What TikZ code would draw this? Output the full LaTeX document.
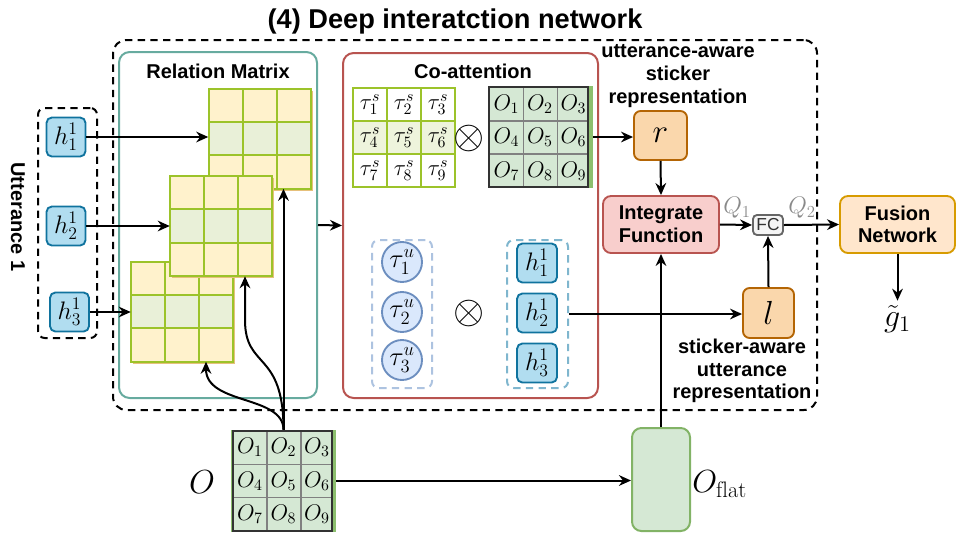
\RequirePackage{fix-cm}
\documentclass[tikz,border=0pt]{standalone}
\usepackage{fontspec}
\newfontfamily\labfont{Liberation Sans}
\usetikzlibrary{arrows.meta,calc}
\definecolor{hfill}{HTML}{B1DDF0}
\definecolor{hdraw}{HTML}{10739E}
\definecolor{cRel}{HTML}{67AB9F}
\definecolor{cCo}{HTML}{B85450}
\definecolor{cYel}{HTML}{FFF2CC}
\definecolor{cGrn}{HTML}{E9F0D8}
\definecolor{cGrid}{HTML}{9CC32A}
\definecolor{cShadow}{HTML}{E6C07B}
\definecolor{cTauG}{HTML}{EEF4DC}
\definecolor{cOfill}{HTML}{D5E8D4}
\definecolor{cOedge}{HTML}{8CBF6E}
\definecolor{cOframe}{HTML}{333333}
\definecolor{cOline}{HTML}{808080}
\definecolor{cTuF}{HTML}{DAE8FC}
\definecolor{cTuD}{HTML}{6C8EBF}
\definecolor{cTuBox}{HTML}{ADC3E0}
\definecolor{cHBox}{HTML}{7FB6CE}
\definecolor{cOrF}{HTML}{FAD7AC}
\definecolor{cOrD}{HTML}{B46504}
\definecolor{cIFF}{HTML}{F8CECC}
\definecolor{cIFD}{HTML}{B85450}
\definecolor{cFCF}{HTML}{F5F5F5}
\definecolor{cFCD}{HTML}{666666}
\definecolor{cFuF}{HTML}{FFE6CC}
\definecolor{cFuD}{HTML}{D79B00}
\definecolor{cFlD}{HTML}{82B366}
\definecolor{cQ}{HTML}{8A8A8A}

\tikzset{
  px/.style 2 args={minimum width={#1*0.75pt}, minimum height={#2*0.75pt}, inner sep=0pt},
  arr/.style={line width=1.5pt, -{Stealth[length=9pt,width=8pt]}},
  lab/.style={font=\labfont\bfseries\fontsize{15}{17}\selectfont, align=center},
  hnode/.style={draw=hdraw, fill=hfill, line width=1.4pt, rounded corners=4pt, font=\fontsize{19}{19}\selectfont},
  orbox/.style={draw=cOrD, fill=cOrF, line width=1.4pt, rounded corners=5pt, font=\fontsize{25}{25}\selectfont},
  dashbox/.style={dashed, dash pattern=on 5.5pt off 4pt, line width=1.5pt},
  cellm/.style={font=\fontsize{17}{17}\selectfont, inner sep=0pt},
}

\newcommand\relmat[3]{%
  \begin{scope}[shift={(#2,#3)}]
    \fill[cShadow] (-49,-48) rectangle (53,52);
    \fill[cYel] (-51,-50) rectangle (51,50);
    \fill[cGrn] (-51,-16.67) rectangle (51,16.67);
    \draw[cGrid, line width=1.5pt] (-51,-50) rectangle (51,50)
      (-17,-50) -- (-17,50) (17,-50) -- (17,50)
      (-51,-16.67) -- (51,-16.67) (-51,16.67) -- (51,16.67);
  \end{scope}
  \node[px={102}{100}] (#1) at (#2,#3) {};}

\newcommand\omat[3]{%
  \begin{scope}[shift={(#2,#3)}]
    \fill[cOedge] (-52.5,-51) rectangle (52.5,51);
    \fill[cOfill] (-51,-50) rectangle (47.5,50);
    \draw[cOline, line width=1.2pt] (-16.5,-50) -- (-16.5,50) (17.5,-50) -- (17.5,50)
      (-51,-16) -- (48,-16) (-51,17) -- (48,17);
    \draw[cOframe, line width=1.5pt] (-51,-50) rectangle (48,50);
  \end{scope}
  \node[px={105}{101}] (#1) at (#2,#3) {};
  \foreach \k/\c/\r in {1/0/0,2/1/0,3/2/0,4/0/1,5/1/1,6/2/1,7/0/2,8/1/2,9/2/2}
    \node[cellm] (#1c\k) at ({#2-33.5+33.5*\c},{#3-33+33.5*\r}) {$O_{\k}$};}

\begin{document}
\begin{tikzpicture}[x=0.75pt,y=-0.75pt]
\useasboundingbox (0,0) rectangle (957,533);

% title
\node[font=\labfont\bfseries\fontsize{20.4}{24}\selectfont] (title) at (455,21) {(4) Deep interatction network};

% outer dashed region
\node[draw, dashbox, rounded corners=10pt, px={704}{370}] (outer) at (465,225) {};

% utterance box
\node[draw, dashbox, rounded corners=5pt, px={59}{230}] (utt) at (67.5,223) {};
\node[lab, rotate=-90] (uttlab) at (18,217) {Utterance 1};
\node[hnode, px={39}{39}] (h11) at (66,137) {$h^1_1$};
\node[hnode, px={39}{39}] (h21) at (66,226) {$h^1_2$};
\node[hnode, px={39}{39}] (h31) at (69.5,312) {$h^1_3$};

% relation matrix box
\node[draw=cRel, line width=1.5pt, rounded corners=8pt, px={198}{346}] (rel) at (218,225) {};
\node[lab] (reltitle) at (218,71) {Relation Matrix};
\relmat{m1}{259.5}{138.5}
\relmat{m3}{182}{311.5}
\relmat{m2}{221}{226}

% co-attention box
\node[draw=cCo, line width=1.5pt, rounded corners=8pt, px={255}{345}] (co) at (470.5,225.5) {};
\node[lab] (cotitle) at (473,71) {Co-attention};

% tau^s matrix
\begin{scope}[shift={(404,137.5)}]
  \fill[white] (-51,-49.5) rectangle (51,49.5);
  \fill[cTauG] (-51,-16.5) rectangle (51,16.5);
  \draw[cGrid, line width=1.4pt] (-51,-49.5) rectangle (51,49.5)
    (-17,-49.5) -- (-17,49.5) (17,-49.5) -- (17,49.5)
    (-51,-16.5) -- (51,-16.5) (-51,16.5) -- (51,16.5);
\end{scope}
\node[px={102}{99}] (taus) at (404,137.5) {};
\foreach \k/\c/\r in {1/0/0,2/1/0,3/2/0,4/0/1,5/1/1,6/2/1,7/0/2,8/1/2,9/2/2}
  \node[cellm] (ts\k) at ({370+34*\c},{104.5+33*\r}) {$\tau^s_{\k}$};

\node[inner sep=0pt, font=\fontsize{30}{30}\selectfont] (ot1) at (469,138) {$\otimes$};
\omat{otop}{540}{137}

% tau^u and h
\node[draw=cTuBox, dashbox, rounded corners=5pt, px={60}{148}] (tubox) at (402,314) {};
\foreach \k/\yy in {1/262,2/312,3/360}
  \node[circle, draw=cTuD, fill=cTuF, line width=1.4pt, minimum size=30pt, inner sep=0pt, font=\fontsize{20}{20}\selectfont] (tu\k) at (402,\yy) {$\tau^u_{\k}$};
\node[inner sep=0pt, font=\fontsize{30}{30}\selectfont] (ot2) at (469,313) {$\otimes$};
\node[draw=cHBox, dashbox, rounded corners=5pt, px={61}{148}] (hbox) at (537.5,314) {};
\foreach \k/\yy in {1/263,2/313,3/363}
  \node[hnode, px={40}{39}] (ha\k) at (537,\yy) {$h^1_{\k}$};

% right part
\node[orbox, px={53}{49}] (r) at (660.5,135.5) {$r$};
\node[lab] (usr) at (678,76) {utterance-aware\\sticker\\representation};
\node[draw=cIFD, fill=cIFF, line width=1.4pt, rounded corners=6pt, px={116}{57}, lab] (if) at (661,224.5) {Integrate\\Function};
\node[draw=cFCD, fill=cFCF, line width=1.4pt, rounded corners=3pt, px={30}{20}, text=cOframe, font=\labfont\fontsize{13}{13}\selectfont] (fc) at (768,225) {FC};
\node[draw=cFuD, fill=cFuF, line width=1.4pt, rounded corners=6pt, px={115}{57}, lab] (fu) at (897.5,224.5) {Fusion\\Network};
\node[orbox, px={51}{50}] (l) at (768.5,313) {$l$};
\node[lab] (sau) at (742,371) {sticker-aware\\utterance\\representation};
\node[text=cQ, font=\fontsize{18}{18}\selectfont] (q1) at (737,208) {$Q_1$};
\node[text=cQ, font=\fontsize{18}{18}\selectfont] (q2) at (802,208) {$Q_2$};
\node[font=\fontsize{24}{24}\selectfont] (g1) at (897.5,319) {$\tilde{g}_1$};

% bottom
\omat{obot}{283.5}{480.5}
\node[font=\fontsize{25}{25}\selectfont] (olab) at (202,482) {$O$};
\node[draw=cFlD, fill=cOfill, line width=1.5pt, rounded corners=7pt, px={58}{103}] (ofl) at (661,479.5) {};
\node[anchor=west, font=\fontsize{24}{24}\selectfont, inner sep=0pt] (ofllab) at (692,484) {$O_{\mathrm{flat}}$};

% connectors
\draw[arr] (h11.east) -- (h11.east -| m1.west);
\draw[arr] (h21.east) -- (h21.east -| m2.west);
\draw[arr] (h31.east) -- (h31.east -| m3.west);
\draw[arr] (rel.east) -- (co.west);
\draw[arr] (otop.east) -- (otop.east -| r.west);
\draw[arr] (r.south) -- (if.north);
\draw[arr] (if.east) -- (fc.west);
\draw[arr] (fc.east) -- (fu.west);
\draw[arr] (l.north) -- (fc.south);
\draw[arr] (hbox.east) -- (hbox.east -| l.west);
\draw[arr] (fu.south) -- (g1.north);
\draw[arr] (ofl.north) -- (if.south);
\draw[arr] (obot.east) -- (obot.east -| ofl.west);
\draw[arr] (obot.north) -- (obot.north |- m1.south);
\draw[arr] (obot.north) .. controls (283.5,350) and (245,370) .. (245,320) -- ($(m2.south)+(24,0)$);
\draw[arr] (obot.north) .. controls (283.5,395) and (206,405) .. ($(m3.south)+(24,0)$);
\end{tikzpicture}
\end{document}
